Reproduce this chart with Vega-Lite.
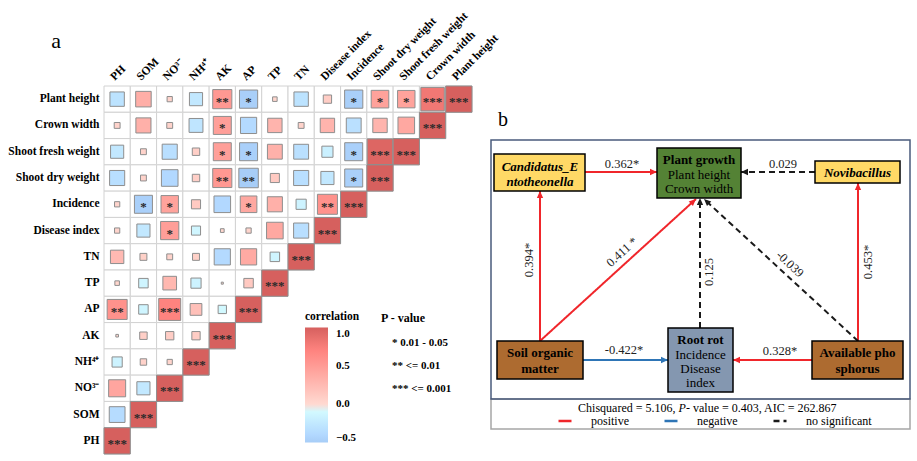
{
  "$schema": "https://vega.github.io/schema/vega-lite/v6.json",
  "background": "white",
  "padding": {"left": 7, "top": 9, "right": 0, "bottom": 0},
  "bounds": "flush",
  "spacing": 14,
  "config": {"view": {"stroke": null}, "font": "Liberation Serif"},
  "resolve": {
    "scale": {"color": "independent", "fill": "independent", "opacity": "independent", "size": "independent", "strokeDash": "independent", "stroke": "independent"},
    "legend": {"color": "independent", "opacity": "independent", "strokeDash": "independent"}
  },
  "datasets": {
    "corr": [
      {"row":"Plant height","col":"PH","r":-0.30,"sig":""},
      {"row":"Plant height","col":"SOM","r":0.35,"sig":""},
      {"row":"Plant height","col":"NO³⁻","r":0.04,"sig":""},
      {"row":"Plant height","col":"NH⁴⁺","r":-0.25,"sig":""},
      {"row":"Plant height","col":"AK","r":0.53,"sig":"**"},
      {"row":"Plant height","col":"AP","r":-0.48,"sig":"*"},
      {"row":"Plant height","col":"TP","r":0.03,"sig":""},
      {"row":"Plant height","col":"TN","r":-0.30,"sig":""},
      {"row":"Plant height","col":"Disease index","r":0.10,"sig":""},
      {"row":"Plant height","col":"Incidence","r":-0.48,"sig":"*"},
      {"row":"Plant height","col":"Shoot dry weight","r":0.45,"sig":"*"},
      {"row":"Plant height","col":"Shoot fresh weight","r":0.44,"sig":"*"},
      {"row":"Plant height","col":"Crown width","r":0.80,"sig":"***"},
      {"row":"Plant height","col":"Plant height","r":1,"sig":"***"},
      {"row":"Crown width","col":"PH","r":0.05,"sig":""},
      {"row":"Crown width","col":"SOM","r":0.33,"sig":""},
      {"row":"Crown width","col":"NO³⁻","r":0.05,"sig":""},
      {"row":"Crown width","col":"NH⁴⁺","r":-0.28,"sig":""},
      {"row":"Crown width","col":"AK","r":0.47,"sig":"*"},
      {"row":"Crown width","col":"AP","r":-0.38,"sig":""},
      {"row":"Crown width","col":"TP","r":0.30,"sig":""},
      {"row":"Crown width","col":"TN","r":0.05,"sig":""},
      {"row":"Crown width","col":"Disease index","r":0.30,"sig":""},
      {"row":"Crown width","col":"Incidence","r":-0.32,"sig":""},
      {"row":"Crown width","col":"Shoot dry weight","r":0.30,"sig":""},
      {"row":"Crown width","col":"Shoot fresh weight","r":0.40,"sig":""},
      {"row":"Crown width","col":"Crown width","r":1,"sig":"***"},
      {"row":"Shoot fresh weight","col":"PH","r":-0.25,"sig":""},
      {"row":"Shoot fresh weight","col":"SOM","r":0.05,"sig":""},
      {"row":"Shoot fresh weight","col":"NO³⁻","r":-0.33,"sig":""},
      {"row":"Shoot fresh weight","col":"NH⁴⁺","r":0.08,"sig":""},
      {"row":"Shoot fresh weight","col":"AK","r":0.47,"sig":"*"},
      {"row":"Shoot fresh weight","col":"AP","r":-0.47,"sig":"*"},
      {"row":"Shoot fresh weight","col":"TP","r":0.32,"sig":""},
      {"row":"Shoot fresh weight","col":"TN","r":-0.32,"sig":""},
      {"row":"Shoot fresh weight","col":"Disease index","r":-0.18,"sig":""},
      {"row":"Shoot fresh weight","col":"Incidence","r":-0.47,"sig":"*"},
      {"row":"Shoot fresh weight","col":"Shoot dry weight","r":0.95,"sig":"***"},
      {"row":"Shoot fresh weight","col":"Shoot fresh weight","r":1,"sig":"***"},
      {"row":"Shoot dry weight","col":"PH","r":-0.33,"sig":""},
      {"row":"Shoot dry weight","col":"SOM","r":0.05,"sig":""},
      {"row":"Shoot dry weight","col":"NO³⁻","r":-0.40,"sig":""},
      {"row":"Shoot dry weight","col":"NH⁴⁺","r":0.08,"sig":""},
      {"row":"Shoot dry weight","col":"AK","r":0.53,"sig":"**"},
      {"row":"Shoot dry weight","col":"AP","r":-0.55,"sig":"**"},
      {"row":"Shoot dry weight","col":"TP","r":0.12,"sig":""},
      {"row":"Shoot dry weight","col":"TN","r":-0.33,"sig":""},
      {"row":"Shoot dry weight","col":"Disease index","r":-0.25,"sig":""},
      {"row":"Shoot dry weight","col":"Incidence","r":-0.47,"sig":"*"},
      {"row":"Shoot dry weight","col":"Shoot dry weight","r":1,"sig":"***"},
      {"row":"Incidence","col":"PH","r":0.04,"sig":""},
      {"row":"Incidence","col":"SOM","r":-0.47,"sig":"*"},
      {"row":"Incidence","col":"NO³⁻","r":0.44,"sig":"*"},
      {"row":"Incidence","col":"NH⁴⁺","r":0.12,"sig":""},
      {"row":"Incidence","col":"AK","r":-0.40,"sig":""},
      {"row":"Incidence","col":"AP","r":0.40,"sig":"*"},
      {"row":"Incidence","col":"TP","r":0.33,"sig":""},
      {"row":"Incidence","col":"TN","r":-0.15,"sig":""},
      {"row":"Incidence","col":"Disease index","r":0.58,"sig":"**"},
      {"row":"Incidence","col":"Incidence","r":1,"sig":"***"},
      {"row":"Disease index","col":"PH","r":0.04,"sig":""},
      {"row":"Disease index","col":"SOM","r":-0.25,"sig":""},
      {"row":"Disease index","col":"NO³⁻","r":0.48,"sig":"*"},
      {"row":"Disease index","col":"NH⁴⁺","r":-0.12,"sig":""},
      {"row":"Disease index","col":"AK","r":0.02,"sig":""},
      {"row":"Disease index","col":"AP","r":0.04,"sig":""},
      {"row":"Disease index","col":"TP","r":0.40,"sig":""},
      {"row":"Disease index","col":"TN","r":-0.33,"sig":""},
      {"row":"Disease index","col":"Disease index","r":1,"sig":"***"},
      {"row":"TN","col":"PH","r":0.26,"sig":""},
      {"row":"TN","col":"SOM","r":0.07,"sig":""},
      {"row":"TN","col":"NO³⁻","r":0.05,"sig":""},
      {"row":"TN","col":"NH⁴⁺","r":0.07,"sig":""},
      {"row":"TN","col":"AK","r":-0.38,"sig":""},
      {"row":"TN","col":"AP","r":0.38,"sig":""},
      {"row":"TN","col":"TP","r":-0.13,"sig":""},
      {"row":"TN","col":"TN","r":1,"sig":"***"},
      {"row":"TP","col":"PH","r":0.03,"sig":""},
      {"row":"TP","col":"SOM","r":-0.13,"sig":""},
      {"row":"TP","col":"NO³⁻","r":0.27,"sig":""},
      {"row":"TP","col":"NH⁴⁺","r":-0.15,"sig":""},
      {"row":"TP","col":"AK","r":0.006,"sig":""},
      {"row":"TP","col":"AP","r":0.13,"sig":""},
      {"row":"TP","col":"TP","r":1,"sig":"***"},
      {"row":"AP","col":"PH","r":0.58,"sig":"**"},
      {"row":"AP","col":"SOM","r":-0.13,"sig":""},
      {"row":"AP","col":"NO³⁻","r":0.70,"sig":"***"},
      {"row":"AP","col":"NH⁴⁺","r":0.20,"sig":""},
      {"row":"AP","col":"AK","r":-0.10,"sig":""},
      {"row":"AP","col":"AP","r":1,"sig":"***"},
      {"row":"AK","col":"PH","r":0.01,"sig":""},
      {"row":"AK","col":"SOM","r":0.08,"sig":""},
      {"row":"AK","col":"NO³⁻","r":0.10,"sig":""},
      {"row":"AK","col":"NH⁴⁺","r":0.10,"sig":""},
      {"row":"AK","col":"AK","r":1,"sig":"***"},
      {"row":"NH⁴⁺","col":"PH","r":-0.15,"sig":""},
      {"row":"NH⁴⁺","col":"SOM","r":0.06,"sig":""},
      {"row":"NH⁴⁺","col":"NO³⁻","r":0.04,"sig":""},
      {"row":"NH⁴⁺","col":"NH⁴⁺","r":1,"sig":"***"},
      {"row":"NO³⁻","col":"PH","r":0.42,"sig":""},
      {"row":"NO³⁻","col":"SOM","r":-0.25,"sig":""},
      {"row":"NO³⁻","col":"NO³⁻","r":1,"sig":"***"},
      {"row":"SOM","col":"PH","r":-0.36,"sig":""},
      {"row":"SOM","col":"SOM","r":1,"sig":"***"},
      {"row":"PH","col":"PH","r":1,"sig":"***"}
    ],
    "edges": [
      {"from":"Candidatus_Entotheonella","to":"Plant growth","type":"positive","coef":"0.362*","x1":584,"y1":170,"x2":656,"y2":170,"dir":90,"lx":621,"ly":162,"langle":0},
      {"from":"Novibacillus","to":"Plant growth","type":"no significant","coef":"0.029","x1":814,"y1":170,"x2":740,"y2":170,"dir":-90,"lx":782,"ly":162,"langle":0},
      {"from":"Soil organic matter","to":"Candidatus_Entotheonella","type":"positive","coef":"0.394*","x1":539,"y1":339,"x2":539,"y2":189,"dir":0,"lx":528,"ly":258,"langle":-90},
      {"from":"Available phosphorus","to":"Novibacillus","type":"positive","coef":"0.453*","x1":857,"y1":339,"x2":857,"y2":181,"dir":0,"lx":867,"ly":260,"langle":-90},
      {"from":"Soil organic matter","to":"Plant growth","type":"positive","coef":"0.411 *","x1":539,"y1":339,"x2":695,"y2":197,"dir":47.7,"lx":621,"ly":250,"langle":-42.3},
      {"from":"Root rot","to":"Plant growth","type":"no significant","coef":"0.125","x1":699,"y1":326,"x2":699,"y2":196,"dir":0,"lx":708,"ly":270,"langle":-90},
      {"from":"Available phosphorus","to":"Plant growth","type":"no significant","coef":"-0.039","x1":857,"y1":339,"x2":703,"y2":197,"dir":-47.3,"lx":789,"ly":262,"langle":42.7},
      {"from":"Soil organic matter","to":"Root rot","type":"negative","coef":"-0.422*","x1":582,"y1":358,"x2":667,"y2":358,"dir":90,"lx":623,"ly":348,"langle":0},
      {"from":"Available phosphorus","to":"Root rot","type":"positive","coef":"0.328*","x1":811,"y1":358,"x2":732,"y2":358,"dir":-90,"lx":779,"ly":349,"langle":0}
    ],
    "nodes": [
      {"node":"Candidatus_Entotheonella","group":"bacteria","x1":493,"x2":584,"y1":152,"y2":189},
      {"node":"Novibacillus","group":"bacteria","x1":814,"x2":899,"y1":159,"y2":181},
      {"node":"Plant growth","group":"plant","x1":656,"x2":740,"y1":146,"y2":196},
      {"node":"Soil organic matter","group":"soil","x1":496,"x2":582,"y1":339,"y2":377},
      {"node":"Root rot","group":"disease","x1":667,"x2":732,"y1":326,"y2":390},
      {"node":"Available phosphorus","group":"soil","x1":811,"x2":902,"y1":339,"y2":377}
    ],
    "nodeText": [
      {"node":"Candidatus_Entotheonella","line":"Candidatus_E","style":"bolditalic","x":539,"y":164.5},
      {"node":"Candidatus_Entotheonella","line":"ntotheonella","style":"bolditalic","x":539,"y":179.5},
      {"node":"Novibacillus","line":"Novibacillus","style":"bolditalic","x":856.5,"y":170.5},
      {"node":"Plant growth","line":"Plant growth","style":"bold","x":698,"y":158},
      {"node":"Plant growth","line":"Plant height","style":"normal","x":698,"y":172.5},
      {"node":"Plant growth","line":"Crown width","style":"normal","x":698,"y":187},
      {"node":"Soil organic matter","line":"Soil organic","style":"bold","x":539,"y":351},
      {"node":"Soil organic matter","line":"matter","style":"bold","x":539,"y":366.5},
      {"node":"Root rot","line":"Root rot","style":"bold","x":699.5,"y":337.5},
      {"node":"Root rot","line":"Incidence","style":"normal","x":699.5,"y":352.5},
      {"node":"Root rot","line":"Disease","style":"normal","x":699.5,"y":366.5},
      {"node":"Root rot","line":"index","style":"normal","x":699.5,"y":380.5},
      {"node":"Available phosphorus","line":"Available pho","style":"bold","x":856.5,"y":351},
      {"node":"Available phosphorus","line":"sphorus","style":"bold","x":856.5,"y":366.5}
    ],
    "frame": [
      {"part":"fit legend","x1":490,"x2":909,"y1":397,"y2":427},
      {"part":"model","x1":490,"x2":909,"y1":138,"y2":397}
    ],
    "stat": [
      {"piece":"lead","text":"Chisquared = 5.106,","x":674.5,"y":406},
      {"piece":"p","text":"P","x":677.5,"y":406},
      {"piece":"rest","text":"- value = 0.403, AIC = 262.867","x":685,"y":406}
    ],
    "tags": [{"tag":"b","x":502,"y":124}]
  },
  "hconcat": [
    {
      "width": 368,
      "height": 368,
      "data": {"name": "corr"},
      "encoding": {
        "x": {
          "field": "col", "type": "nominal",
          "scale": {"domain": ["PH","SOM","NO³⁻","NH⁴⁺","AK","AP","TP","TN","Disease index","Incidence","Shoot dry weight","Shoot fresh weight","Crown width","Plant height"], "paddingInner": 0, "paddingOuter": 0},
          "axis": {"orient": "top", "title": null, "labelAngle": -45, "labelAlign": "left", "labelBaseline": "bottom", "labelPadding": 4, "labelOffset": -1, "labelOverlap": false, "ticks": false, "domain": false, "labelFont": "Liberation Serif", "labelFontSize": 11.5, "labelFontWeight": "bold", "labelColor": "black"}
        },
        "y": {
          "field": "row", "type": "nominal",
          "scale": {"domain": ["Plant height","Crown width","Shoot fresh weight","Shoot dry weight","Incidence","Disease index","TN","TP","AP","AK","NH⁴⁺","NO³⁻","SOM","PH"], "paddingInner": 0, "paddingOuter": 0},
          "axis": {"title": "a", "titleAngle": 0, "titleX": -48.5, "titleY": -39, "titleAlign": "center", "titleBaseline": "alphabetic", "titleFont": "Liberation Serif", "titleFontSize": 22, "titleFontWeight": "normal", "titleColor": "black", "labelPadding": 5, "labelOverlap": false, "ticks": false, "domain": false, "labelFont": "Liberation Serif", "labelFontSize": 11.5, "labelFontWeight": "bold", "labelColor": "black"}
        }
      },
      "layer": [
        {"mark": {"type": "rect", "fill": "white", "stroke": "#d2d2d2", "strokeWidth": 1}},
        {
          "mark": {"type": "square", "filled": true, "stroke": "#8e8e8e", "strokeWidth": 1, "opacity": 1},
          "encoding": {
            "color": {
              "field": "r", "type": "quantitative",
              "scale": {"domain": [-0.5, 0, 1], "range": ["#a7cdf7", "#ffffff", "#d6605e"], "clamp": true, "interpolate": "hcl"},
              "legend": {"orient": "none", "legendX": 201, "legendY": 225, "direction": "vertical", "title": "correlation", "titleFont": "Liberation Serif", "titleFontSize": 11.5, "titleFontWeight": "bold", "titleColor": "black", "titlePadding": 5, "gradientLength": 115, "gradientThickness": 23, "gradientStrokeWidth": 0, "values": [-0.5, 0, 0.5, 1], "format": ".1f", "labelFont": "Liberation Serif", "labelFontSize": 11, "labelFontWeight": "bold", "labelColor": "black", "labelOffset": 8}
            },
            "size": {"field": "r", "type": "quantitative", "scale": {"domain": [-1, 0, 1], "range": [690, 0, 690]}, "legend": null}
          }
        },
        {
          "transform": [{"filter": "datum.sig != ''"}],
          "mark": {"type": "text", "font": "Liberation Serif", "fontSize": 13, "fontWeight": "bold", "color": "#2a2a2a", "baseline": "middle", "align": "center", "dy": 3},
          "encoding": {
            "text": {"field": "sig"},
            "opacity": {
              "field": "sig", "type": "nominal",
              "scale": {"domain": ["*", "**", "***"], "range": [1, 1, 1]},
              "legend": {"orient": "none", "legendX": 277, "legendY": 227, "title": "P - value", "titleFont": "Liberation Serif", "titleFontSize": 12, "titleFontWeight": "bold", "titleColor": "black", "titlePadding": 12, "symbolSize": 0, "symbolOpacity": 0, "symbolStrokeWidth": 0, "labelOffset": 0, "rowPadding": 11, "labelExpr": "datum.label == '*' ? '*   0.01 - 0.05' : datum.label == '**' ? '** <= 0.01' : '*** <= 0.001'", "labelFont": "Liberation Serif", "labelFontSize": 11, "labelFontWeight": "bold", "labelColor": "black"}
            }
          }
        }
      ]
    },
    {
      "width": 430,
      "height": 368,
      "resolve": {"scale": {"fill": "independent"}},
      "layer": [
        {
          "data": {"name": "frame"},
          "mark": {"type": "rect", "fill": "transparent", "strokeWidth": 1.5},
          "encoding": {
            "x": {"field": "x1", "type": "quantitative", "scale": {"domain": [485, 915], "nice": false, "zero": false}, "axis": null},
            "x2": {"field": "x2"},
            "y": {"field": "y1", "type": "quantitative", "scale": {"domain": [84, 452], "nice": false, "zero": false, "reverse": true}, "axis": null},
            "y2": {"field": "y2"},
            "stroke": {"field": "part", "type": "nominal", "scale": {"domain": ["fit legend", "model"], "range": ["#a6a6a6", "#4a5b7c"]}, "legend": null}
          }
        },
        {
          "data": {"name": "edges"},
          "mark": {"type": "rule", "strokeWidth": 2},
          "encoding": {
            "x": {"field": "x1", "type": "quantitative", "scale": {"domain": [485, 915], "nice": false, "zero": false}, "axis": null},
            "x2": {"field": "x2"},
            "y": {"field": "y1", "type": "quantitative", "scale": {"domain": [84, 452], "nice": false, "zero": false, "reverse": true}, "axis": null},
            "y2": {"field": "y2"},
            "color": {
              "field": "type", "type": "nominal",
              "scale": {"domain": ["positive", "negative", "no significant"], "range": ["#f0262b", "#2e75b6", "#1a1a1a"]},
              "legend": {"orient": "none", "legendX": 71, "legendY": 327, "direction": "horizontal", "title": null, "symbolType": "stroke", "symbolSize": 169, "symbolStrokeWidth": 2.5, "labelFont": "Liberation Serif", "labelFontSize": 12, "labelColor": "black", "labelOffset": 18, "columnPadding": 30}
            },
            "strokeDash": {
              "field": "type", "type": "nominal",
              "scale": {"domain": ["positive", "negative", "no significant"], "range": [[1, 0], [1, 0], [6, 4]]},
              "legend": {"orient": "none", "legendX": 71, "legendY": 327, "direction": "horizontal", "title": null, "symbolType": "stroke", "symbolSize": 169, "symbolStrokeWidth": 2.5, "labelFont": "Liberation Serif", "labelFontSize": 12, "labelColor": "black", "labelOffset": 18, "columnPadding": 30}
            }
          }
        },
        {
          "data": {"name": "edges"},
          "mark": {"type": "point", "shape": "M0,0L-0.45,1L0.45,1Z", "filled": true, "size": 196, "opacity": 1, "strokeWidth": 0},
          "encoding": {
            "x": {"field": "x2", "type": "quantitative", "scale": {"domain": [485, 915], "nice": false, "zero": false}, "axis": null},
            "y": {"field": "y2", "type": "quantitative", "scale": {"domain": [84, 452], "nice": false, "zero": false, "reverse": true}, "axis": null},
            "angle": {"field": "dir", "type": "quantitative", "scale": null},
            "fill": {"field": "type", "type": "nominal", "scale": {"domain": ["positive", "negative", "no significant"], "range": ["#f0262b", "#2e75b6", "#1a1a1a"]}, "legend": null}
          }
        },
        {
          "data": {"name": "nodes"},
          "mark": {"type": "rect", "stroke": "black", "strokeWidth": 1.5},
          "encoding": {
            "x": {"field": "x1", "type": "quantitative", "scale": {"domain": [485, 915], "nice": false, "zero": false}, "axis": null},
            "x2": {"field": "x2"},
            "y": {"field": "y1", "type": "quantitative", "scale": {"domain": [84, 452], "nice": false, "zero": false, "reverse": true}, "axis": null},
            "y2": {"field": "y2"},
            "fill": {"field": "group", "type": "nominal", "scale": {"domain": ["bacteria", "plant", "soil", "disease"], "range": ["#ffd966", "#548235", "#ad6b30", "#8497b0"]}, "legend": null}
          }
        },
        {
          "data": {"name": "nodeText"},
          "transform": [{"filter": "datum.style == 'bolditalic'"}],
          "mark": {"type": "text", "font": "Liberation Serif", "fontSize": 13, "fontWeight": "bold", "fontStyle": "italic", "color": "black", "align": "center", "baseline": "middle"},
          "encoding": {
            "x": {"field": "x", "type": "quantitative", "scale": {"domain": [485, 915], "nice": false, "zero": false}, "axis": null},
            "y": {"field": "y", "type": "quantitative", "scale": {"domain": [84, 452], "nice": false, "zero": false, "reverse": true}, "axis": null},
            "text": {"field": "line"}
          }
        },
        {
          "data": {"name": "nodeText"},
          "transform": [{"filter": "datum.style == 'bold'"}],
          "mark": {"type": "text", "font": "Liberation Serif", "fontSize": 13, "fontWeight": "bold", "color": "black", "align": "center", "baseline": "middle"},
          "encoding": {
            "x": {"field": "x", "type": "quantitative", "scale": {"domain": [485, 915], "nice": false, "zero": false}, "axis": null},
            "y": {"field": "y", "type": "quantitative", "scale": {"domain": [84, 452], "nice": false, "zero": false, "reverse": true}, "axis": null},
            "text": {"field": "line"}
          }
        },
        {
          "data": {"name": "nodeText"},
          "transform": [{"filter": "datum.style == 'normal'"}],
          "mark": {"type": "text", "font": "Liberation Serif", "fontSize": 13, "color": "black", "align": "center", "baseline": "middle"},
          "encoding": {
            "x": {"field": "x", "type": "quantitative", "scale": {"domain": [485, 915], "nice": false, "zero": false}, "axis": null},
            "y": {"field": "y", "type": "quantitative", "scale": {"domain": [84, 452], "nice": false, "zero": false, "reverse": true}, "axis": null},
            "text": {"field": "line"}
          }
        },
        {
          "data": {"name": "edges"},
          "mark": {"type": "text", "font": "Liberation Serif", "fontSize": 12.5, "color": "#222222", "align": "center", "baseline": "middle"},
          "encoding": {
            "x": {"field": "lx", "type": "quantitative", "scale": {"domain": [485, 915], "nice": false, "zero": false}, "axis": null},
            "y": {"field": "ly", "type": "quantitative", "scale": {"domain": [84, 452], "nice": false, "zero": false, "reverse": true}, "axis": null},
            "angle": {"field": "langle", "type": "quantitative", "scale": null},
            "text": {"field": "coef"}
          }
        },
        {
          "data": {"name": "stat"},
          "transform": [{"filter": "datum.piece == 'lead'"}],
          "mark": {"type": "text", "font": "Liberation Serif", "fontSize": 12, "color": "black", "align": "right", "baseline": "middle"},
          "encoding": {
            "x": {"field": "x", "type": "quantitative", "scale": {"domain": [485, 915], "nice": false, "zero": false}, "axis": null},
            "y": {"field": "y", "type": "quantitative", "scale": {"domain": [84, 452], "nice": false, "zero": false, "reverse": true}, "axis": null},
            "text": {"field": "text"}
          }
        },
        {
          "data": {"name": "stat"},
          "transform": [{"filter": "datum.piece == 'p'"}],
          "mark": {"type": "text", "font": "Liberation Serif", "fontSize": 12, "fontStyle": "italic", "color": "black", "align": "left", "baseline": "middle"},
          "encoding": {
            "x": {"field": "x", "type": "quantitative", "scale": {"domain": [485, 915], "nice": false, "zero": false}, "axis": null},
            "y": {"field": "y", "type": "quantitative", "scale": {"domain": [84, 452], "nice": false, "zero": false, "reverse": true}, "axis": null},
            "text": {"field": "text"}
          }
        },
        {
          "data": {"name": "stat"},
          "transform": [{"filter": "datum.piece == 'rest'"}],
          "mark": {"type": "text", "font": "Liberation Serif", "fontSize": 12, "color": "black", "align": "left", "baseline": "middle"},
          "encoding": {
            "x": {"field": "x", "type": "quantitative", "scale": {"domain": [485, 915], "nice": false, "zero": false}, "axis": null},
            "y": {"field": "y", "type": "quantitative", "scale": {"domain": [84, 452], "nice": false, "zero": false, "reverse": true}, "axis": null},
            "text": {"field": "text"}
          }
        },
        {
          "data": {"name": "tags"},
          "mark": {"type": "text", "font": "Liberation Serif", "fontSize": 20, "color": "black", "align": "center", "baseline": "alphabetic"},
          "encoding": {
            "x": {"field": "x", "type": "quantitative", "scale": {"domain": [485, 915], "nice": false, "zero": false}, "axis": null},
            "y": {"field": "y", "type": "quantitative", "scale": {"domain": [84, 452], "nice": false, "zero": false, "reverse": true}, "axis": null},
            "text": {"field": "tag"}
          }
        }
      ]
    }
  ]
}
